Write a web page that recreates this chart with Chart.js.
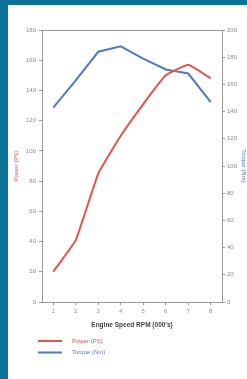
<!DOCTYPE html>
<html><head><meta charset="utf-8">
<script src="https://cdn.jsdelivr.net/npm/chart.js@4/dist/chart.umd.min.js"></script>
<style>
html,body{margin:0;padding:0;background:#0c7196;width:247px;height:379px;overflow:hidden}
#wrap{position:absolute;left:8px;top:5px;width:239px;height:374px;background:#fff}
canvas{display:block}
</style></head><body>
<div id="wrap"><canvas id="c" width="239" height="374"></canvas></div>
<script>
const rpm = ['1','2','3','4','5','6','7','8'];
const powerPS = [20, 41, 85, 110, 131, 150, 157, 148];
const torqueNm = [143, 163, 184, 188, 179, 171, 168, 147];
const powerLabel = 'Power (PS)';
const torqueLabel = 'Torque (Nm)';
const xTitle = "Engine Speed RPM (000's)";

const RED = '#e2544c', BLUE = '#5279c0', AX = '#9a9a9a', TXT = '#8a8a8a';
const tickFont = {family:'Liberation Sans, Arial, sans-serif', size:6};

const extras = {
  id:'extras',
  afterDraw(chart){
    const ctx = chart.ctx, a = chart.chartArea;
    ctx.save();
    ctx.strokeStyle = AX; ctx.lineWidth = 1;
    ctx.beginPath(); ctx.moveTo(a.left, a.top+0.5); ctx.lineTo(a.right, a.top+0.5); ctx.stroke();
    const ds = chart.data.datasets;
    ds.forEach((d,i)=>{
      const y = 336 + i*11.5;
      ctx.strokeStyle = d.borderColor; ctx.lineWidth = 2;
      ctx.beginPath(); ctx.moveTo(30, y); ctx.lineTo(54, y); ctx.stroke();
      ctx.fillStyle = d.borderColor;
      ctx.font = '6px Liberation Sans, Arial, sans-serif';
      ctx.textBaseline = 'middle'; ctx.textAlign = 'left';
      ctx.fillText(d.label, 64, y);
    });
    ctx.restore();
  }
};

new Chart(document.getElementById('c'), {
  type:'line',
  data:{
    labels: rpm,
    datasets:[
      {label: powerLabel, data: powerPS, borderColor: RED, backgroundColor: RED, borderWidth:2, pointRadius:0, tension:0.1, yAxisID:'yP'},
      {label: torqueLabel, data: torqueNm, borderColor: BLUE, backgroundColor: BLUE, borderWidth:2, pointRadius:0, tension:0, yAxisID:'yT'}
    ]
  },
  options:{
    responsive:false, animation:false,
    layout:{padding:{top:25,left:0,right:0,bottom:0}},
    plugins:{legend:{display:false}, tooltip:{enabled:false}},
    scales:{
      x:{
        type:'category', offset:true,
        border:{display:true,color:AX,width:1},
        grid:{display:true, drawOnChartArea:false, drawTicks:true, tickLength:3, color:AX},
        ticks:{color:TXT, font:tickFont, padding:3, maxRotation:0},
        title:{display:true, text:xTitle, color:'#444', font:{family:'Liberation Sans, Arial, sans-serif', size:6.5, weight:'bold'}, padding:{top:0,bottom:50}},
        afterFit(s){ s.height = 77; }
      },
      yP:{
        position:'left', min:0, max:180,
        border:{display:true,color:AX,width:1},
        grid:{display:true, drawOnChartArea:false, drawTicks:true, tickLength:3, color:AX},
        ticks:{stepSize:20, color:TXT, font:tickFont, padding:3},
        title:{display:true, text:powerLabel, color:RED, font:{family:'Liberation Sans, Arial, sans-serif', size:6}, padding:{top:5,bottom:0}},
        afterFit(s){ s.width = 34; }
      },
      yT:{
        position:'right', min:0, max:200,
        border:{display:true,color:AX,width:1},
        grid:{display:true, drawOnChartArea:false, drawTicks:true, tickLength:3, color:AX},
        ticks:{stepSize:20, color:TXT, font:tickFont, padding:2},
        title:{display:true, text:torqueLabel, color:BLUE, font:{family:'Liberation Sans, Arial, sans-serif', size:6}, padding:{top:0,bottom:0}},
        afterFit(s){ s.width = 25; }
      }
    }
  },
  plugins:[extras]
});
</script>
</body></html>
